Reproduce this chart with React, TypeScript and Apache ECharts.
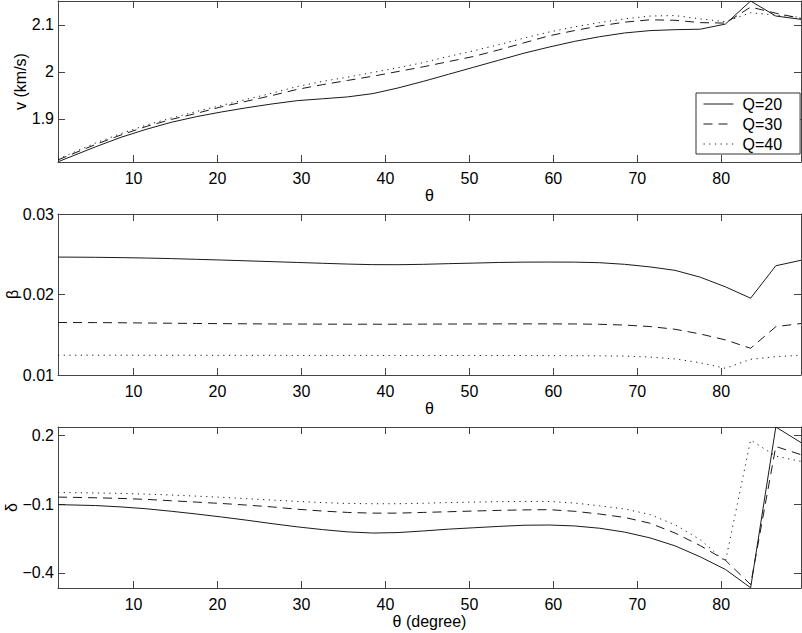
import React, { useEffect, useRef } from 'react';
import * as echarts from 'echarts';

// θ sample positions (degrees)
const theta = [1, 5.5, 8.5, 11.5, 14.5, 17.5, 20.5, 23.5, 26.5, 29.5, 32.5, 35.5, 38.5, 41.5, 44.5, 47.5, 50.5, 53.5, 56.5, 59.5, 62.5, 65.5, 68.5, 71.5, 74.5, 77.5, 80.5, 83.5, 86.5, 89.5];

// v (km/s)
const vQ20 = [1.809, 1.841, 1.861, 1.878, 1.893, 1.905, 1.915, 1.924, 1.932, 1.939, 1.943, 1.947, 1.954, 1.966, 1.980, 1.995, 2.010, 2.025, 2.040, 2.053, 2.065, 2.075, 2.083, 2.088, 2.090, 2.091, 2.102, 2.151, 2.119, 2.112];
const vQ30 = [1.813, 1.846, 1.866, 1.884, 1.899, 1.912, 1.926, 1.938, 1.950, 1.963, 1.973, 1.982, 1.991, 2.001, 2.011, 2.022, 2.033, 2.047, 2.062, 2.077, 2.088, 2.098, 2.106, 2.111, 2.110, 2.105, 2.104, 2.138, 2.125, 2.114];
const vQ40 = [1.815, 1.849, 1.869, 1.887, 1.902, 1.916, 1.929, 1.942, 1.955, 1.969, 1.980, 1.989, 1.999, 2.009, 2.020, 2.033, 2.045, 2.058, 2.072, 2.085, 2.096, 2.105, 2.113, 2.119, 2.120, 2.113, 2.107, 2.126, 2.121, 2.116];

// β
const bQ20 = [0.02465, 0.02462, 0.02458, 0.02453, 0.02446, 0.02437, 0.02428, 0.02418, 0.02408, 0.02398, 0.02388, 0.02378, 0.02371, 0.0237, 0.02375, 0.02383, 0.0239, 0.02398, 0.02402, 0.02403, 0.02402, 0.02395, 0.02375, 0.02343, 0.023, 0.02215, 0.02095, 0.01954, 0.02357, 0.02425];
const bQ30 = [0.01652, 0.01651, 0.01649, 0.01646, 0.01643, 0.0164, 0.01638, 0.01636, 0.01634, 0.01633, 0.01632, 0.01631, 0.01631, 0.01631, 0.01632, 0.01633, 0.01634, 0.01635, 0.01635, 0.01635, 0.01634, 0.0163, 0.0162, 0.01602, 0.01568, 0.0151, 0.01436, 0.01332, 0.016, 0.0164];
const bQ40 = [0.01246, 0.01246, 0.01246, 0.01245, 0.01245, 0.01245, 0.01244, 0.01244, 0.01244, 0.01243, 0.01243, 0.01243, 0.01243, 0.01242, 0.01242, 0.01242, 0.01242, 0.01242, 0.01242, 0.01241, 0.0124, 0.01238, 0.01235, 0.01222, 0.012, 0.01152, 0.01083, 0.01195, 0.01228, 0.01245];

// δ
const dQ20 = [-0.102, -0.106, -0.112, -0.12, -0.131, -0.143, -0.156, -0.17, -0.185, -0.199, -0.211, -0.221, -0.226, -0.224, -0.217, -0.209, -0.203, -0.197, -0.192, -0.191, -0.195, -0.205, -0.222, -0.247, -0.282, -0.33, -0.385, -0.465, 0.237, 0.169];
const dQ30 = [-0.069, -0.072, -0.075, -0.079, -0.085, -0.091, -0.097, -0.104, -0.112, -0.122, -0.13, -0.136, -0.139, -0.139, -0.136, -0.133, -0.13, -0.127, -0.125, -0.124, -0.131, -0.143, -0.158, -0.183, -0.226, -0.281, -0.345, -0.451, 0.152, 0.116];
const dQ40 = [-0.049, -0.051, -0.053, -0.056, -0.06, -0.065, -0.07, -0.076, -0.082, -0.088, -0.093, -0.097, -0.098, -0.098, -0.096, -0.093, -0.091, -0.089, -0.088, -0.088, -0.095, -0.107, -0.121, -0.145, -0.19, -0.255, -0.35, 0.18, 0.11, 0.087];

const seriesNames = ['Q=20', 'Q=30', 'Q=40'];
const xTicks = [10, 20, 30, 40, 50, 60, 70, 80];
const vTicks = [1.9, 2, 2.1];
const bTicks = [0.01, 0.02, 0.03];
const dTicks = [-0.4, -0.1, 0.2];

const FONT = '"Liberation Sans", Arial, Helvetica, sans-serif';
const AX = '#444';
const LINE = '#1a1a1a';

const panels = [
  { top: 1, ymin: 1.8085, ymax: 2.151, ticks: vTicks, yName: 'v (km/s)', yGap: 30, xName: 'θ', data: [vQ20, vQ30, vQ40] },
  { top: 214, ymin: 0.01, ymax: 0.03, ticks: bTicks, yName: 'β', yGap: 38, xName: 'θ', data: [bQ20, bQ30, bQ40] },
  { top: 427, ymin: -0.466, ymax: 0.237, ticks: dTicks, yName: 'δ', yGap: 38.5, xName: 'θ (degree)', data: [dQ20, dQ30, dQ40] },
];

const lineTypes: any[] = ['solid', [9, 6], [1.2, 4.5]];

function fmt(v: number) {
  return String(v).replace('-', '\u2212');
}

function buildOption() {
  const grid: any[] = [];
  const xAxis: any[] = [];
  const yAxis: any[] = [];
  const series: any[] = [];
  const textStyle = { fontSize: 16, color: '#000', fontFamily: FONT };
  panels.forEach((p, i) => {
    grid.push({ left: 58, width: 743, top: p.top, height: 161, show: false, outerBoundsMode: 'none' });
    const lineCommon = { show: true, onZero: false, lineStyle: { color: AX, width: 1 } };
    const tickX = { show: true, inside: true, length: 7, customValues: xTicks, lineStyle: { color: AX } };
    xAxis.push({
      type: 'value', gridIndex: i, min: 1, max: 89.5, position: 'bottom',
      axisLine: lineCommon, axisTick: tickX,
      axisLabel: { customValues: xTicks, margin: 8, ...textStyle },
      splitLine: { show: false },
      name: p.xName, nameLocation: 'middle', nameGap: 25, nameTextStyle: textStyle,
    });
    xAxis.push({
      type: 'value', gridIndex: i, min: 1, max: 89.5, position: 'top',
      axisLine: lineCommon, axisTick: tickX,
      axisLabel: { show: false }, splitLine: { show: false },
    });
    const tickY = { show: true, inside: true, length: 7, customValues: p.ticks, lineStyle: { color: AX } };
    yAxis.push({
      type: 'value', gridIndex: i, min: p.ymin, max: p.ymax, position: 'left',
      axisLine: lineCommon, axisTick: tickY,
      axisLabel: { customValues: p.ticks, margin: 4, formatter: (v: number) => fmt(v), ...textStyle },
      splitLine: { show: false },
      name: p.yName, nameLocation: 'middle', nameRotate: 90, nameGap: p.yGap, nameMoveOverlap: false,
      nameTextStyle: textStyle,
    });
    yAxis.push({
      type: 'value', gridIndex: i, min: p.ymin, max: p.ymax, position: 'right',
      axisLine: lineCommon, axisTick: tickY,
      axisLabel: { show: false }, splitLine: { show: false },
    });
    p.data.forEach((arr, k) => {
      series.push({
        type: 'line', name: seriesNames[k], xAxisIndex: 2 * i, yAxisIndex: 2 * i,
        data: theta.map((t, j) => [t, arr[j]]),
        symbol: 'none', silent: true,
        lineStyle: { color: LINE, width: 1, type: lineTypes[k] },
        itemStyle: { color: LINE },
      });
    });
  });
  return {
    animation: false,
    backgroundColor: '#fff',
    grid, xAxis, yAxis, series,
    legend: {
      data: seriesNames, orient: 'vertical', left: 696, top: 93,
      itemWidth: 30, itemHeight: 14, itemGap: 4,
      padding: [3, 18, 2, 7],
      borderColor: '#333', borderWidth: 1, backgroundColor: '#fff',
      itemStyle: { opacity: 0 },
      lineStyle: { width: 1 },
      textStyle: { ...textStyle, padding: [0, 0, 0, 4] },
    },
  };
}

export default function App() {
  const ref = useRef<HTMLDivElement>(null);
  useEffect(() => {
    const chart = echarts.init(ref.current!, null, { renderer: 'svg' });
    chart.setOption(buildOption() as any);
    return () => chart.dispose();
  }, []);
  return <div ref={ref} style={{ position: 'absolute', left: 0, top: 0, width: 802, height: 633 }} />;
}
